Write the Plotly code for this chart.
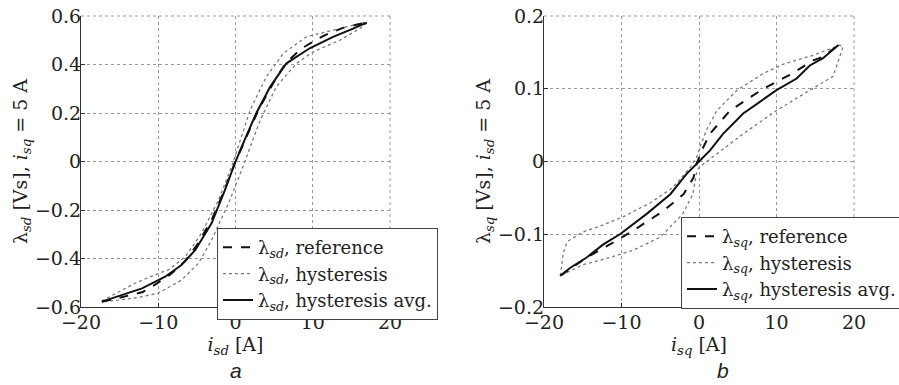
import plotly.graph_objects as go

# ---------------- data: left panel (lambda_sd vs i_sd) ----------------
a_ref_x = [-17.3, -15.0, -12.0, -10.5, -8.4, -6.5, -5.0, -3.0, -1.4, 0.0, 1.4, 3.0, 5.0, 6.5, 8.4, 10.5, 12.0, 14.0, 17.0]
a_ref_y = [-0.578, -0.562, -0.538, -0.51, -0.465, -0.41, -0.345, -0.235, -0.115, 0.0, 0.1, 0.215, 0.33, 0.405, 0.463, 0.503, 0.527, 0.552, 0.573]

a_avg_x = [-17.3, -15.2, -12.1, -9.1, -7.0, -5.2, -3.1, -1.4, 0.0, 1.2, 2.7, 4.5, 6.6, 9.6, 12.7, 15.0, 17.0]
a_avg_y = [-0.578, -0.557, -0.523, -0.475, -0.427, -0.365, -0.255, -0.12, 0.0, 0.09, 0.2, 0.309, 0.405, 0.467, 0.515, 0.545, 0.573]

a_hup_x = [-17.3, -15.0, -13.0, -10.5, -8.7, -6.5, -4.4, -2.2, -0.5, 1.9, 4.0, 6.2, 9.2, 12.7, 17.0]
a_hup_y = [-0.575, -0.535, -0.502, -0.468, -0.447, -0.393, -0.296, -0.159, -0.021, 0.212, 0.35, 0.446, 0.515, 0.542, 0.576]
a_hlo_x = [-17.3, -15.2, -12.5, -10.0, -7.0, -4.8, -3.1, -0.9, 0.8, 3.2, 5.3, 7.9, 10.1, 13.5, 16.5, 17.0]
a_hlo_y = [-0.578, -0.572, -0.56, -0.543, -0.489, -0.42, -0.324, -0.172, -0.035, 0.171, 0.309, 0.405, 0.453, 0.50, 0.556, 0.573]

# ---------------- data: right panel (lambda_sq vs i_sq) ----------------
b_ref_x = [-17.9, -14.5, -11.5, -8.5, -4.6, -2.0, -0.7, -0.3, 0.35, 1.4, 4.0, 8.3, 11.7, 14.75, 16.0, 18.0]
b_ref_y = [-0.157, -0.132, -0.114, -0.095, -0.068, -0.045, -0.022, -0.003, 0.015, 0.038, 0.07, 0.100, 0.119, 0.139, 0.144, 0.16]

b_avg_x = [-17.9, -16.6, -14.5, -12.35, -10.2, -6.75, -3.7, -1.6, -0.1, 1.4, 3.1, 5.7, 10.0, 12.6, 14.3, 16.0, 18.0]
b_avg_y = [-0.157, -0.146, -0.132, -0.114, -0.100, -0.072, -0.045, -0.017, -0.001, 0.015, 0.038, 0.066, 0.098, 0.114, 0.132, 0.142, 0.16]

b_hup_x = [-17.9, -17.5, -17.0, -15.0, -12.8, -9.8, -6.3, -3.4, -1.2, -0.3, 0.3, 1.0, 2.3, 4.9, 8.3, 10.9, 14.7, 18.2, 18.6]
b_hup_y = [-0.157, -0.125, -0.11, -0.097, -0.089, -0.076, -0.057, -0.036, -0.009, 0.006, 0.025, 0.044, 0.07, 0.098, 0.121, 0.134, 0.146, 0.16, 0.158]
b_hlo_x = [-17.9, -15.0, -11.5, -8.5, -5.0, -2.1, -0.8, -0.3, 0.0, 1.0, 2.3, 5.7, 10.0, 14.3, 17.3, 18.6]
b_hlo_y = [-0.157, -0.142, -0.132, -0.122, -0.104, -0.072, -0.045, -0.015, -0.008, 0.001, 0.011, 0.038, 0.07, 0.098, 0.117, 0.158]

x_ticks = [-20, -10, 0, 10, 20]
a_y_ticks = [-0.6, -0.4, -0.2, 0, 0.2, 0.4, 0.6]
b_y_ticks = [-0.2, -0.1, 0, 0.1, 0.2]

SERIF = "DejaVu Serif, serif"
SANS = "Liberation Sans, Arial, sans-serif"
INK = "#222222"
GRID = "#9a9a9a"

fig = go.Figure()

def add_panel(xa, ya, legend, sub, ref_x, ref_y, avg_x, avg_y, up_x, up_y, lo_x, lo_y):
    loop_x = list(up_x) + list(reversed(lo_x))
    loop_y = list(up_y) + list(reversed(lo_y))
    fig.add_trace(go.Scatter(x=loop_x, y=loop_y, mode="lines", xaxis=xa, yaxis=ya, legend=legend,
                             name="λ<sub><i>%s</i></sub>, hysteresis" % sub, legendrank=2,
                             line=dict(color="#7a7a7a", width=1.3, dash="dot")))
    fig.add_trace(go.Scatter(x=ref_x, y=ref_y, mode="lines", xaxis=xa, yaxis=ya, legend=legend,
                             name="λ<sub><i>%s</i></sub>, reference" % sub, legendrank=1,
                             line=dict(color="#111111", width=2, dash="dash")))
    fig.add_trace(go.Scatter(x=avg_x, y=avg_y, mode="lines", xaxis=xa, yaxis=ya, legend=legend,
                             name="λ<sub><i>%s</i></sub>, hysteresis avg." % sub, legendrank=3,
                             line=dict(color="#111111", width=2)))

add_panel("x", "y", "legend", "sd", a_ref_x, a_ref_y, a_avg_x, a_avg_y, a_hup_x, a_hup_y, a_hlo_x, a_hlo_y)
add_panel("x2", "y2", "legend2", "sq", b_ref_x, b_ref_y, b_avg_x, b_avg_y, b_hup_x, b_hup_y, b_hlo_x, b_hlo_y)

W, H = 899, 385
ydom = [1 - 307 / H, 1 - 16 / H]

axis_common = dict(
    showline=True, linecolor="#333333", linewidth=1.2, mirror=False,
    ticks="inside", ticklen=4, tickcolor="#333333", tickwidth=1,
    showgrid=True, gridcolor=GRID, gridwidth=1, griddash="dot",
    zeroline=False, tickfont=dict(family=SERIF, size=19, color=INK),
)
title_font = dict(family=SERIF, size=19, color=INK)

fig.update_layout(
    width=W, height=H, autosize=False,
    margin=dict(l=0, r=0, t=0, b=0, autoexpand=False),
    paper_bgcolor="white", plot_bgcolor="white",
    font=dict(family=SERIF, color=INK),
    xaxis=dict(domain=[81 / W, 390 / W], range=[-20, 20], tickvals=x_ticks, anchor="y",
               title=dict(text="<i>i</i><sub><i>sd</i></sub> [A]", font=title_font, standoff=2),
               ticklabelstandoff=-2, **axis_common),
    yaxis=dict(domain=ydom, range=[-0.6, 0.6], tickvals=a_y_ticks, anchor="x",
               title=dict(text="λ<sub><i>sd</i></sub> [Vs], <i>i</i><sub><i>sq</i></sub> = 5 A", font=title_font, standoff=2),
               ticklabelstandoff=-5, **axis_common),
    xaxis2=dict(domain=[544 / W, 854 / W], range=[-20, 20], tickvals=x_ticks, anchor="y2",
                title=dict(text="<i>i</i><sub><i>sq</i></sub> [A]", font=title_font, standoff=2),
                ticklabelstandoff=-2, **axis_common),
    yaxis2=dict(domain=ydom, range=[-0.2, 0.2], tickvals=b_y_ticks, anchor="x2",
                title=dict(text="λ<sub><i>sq</i></sub> [Vs], <i>i</i><sub><i>sd</i></sub> = 5 A", font=title_font, standoff=2),
                ticklabelstandoff=-5, **axis_common),
    legend=dict(x=217 / W, y=1 - 228 / H, xanchor="left", yanchor="top",
                bgcolor="white", bordercolor="#444444", borderwidth=1,
                font=dict(family=SERIF, size=18, color=INK), tracegroupgap=0),
    legend2=dict(x=681 / W, y=1 - 217 / H, xanchor="left", yanchor="top",
                 bgcolor="white", bordercolor="#444444", borderwidth=1,
                 font=dict(family=SERIF, size=18, color=INK), tracegroupgap=0),
    annotations=[
        dict(text="<i>a</i>", x=236 / W, y=1 - 370 / H, xref="paper", yref="paper", showarrow=False,
             xanchor="center", yanchor="middle", font=dict(family=SANS, size=21, color=INK)),
        dict(text="<i>b</i>", x=723 / W, y=1 - 370 / H, xref="paper", yref="paper", showarrow=False,
             xanchor="center", yanchor="middle", font=dict(family=SANS, size=21, color=INK)),
    ],
)

# dotted frame on the top and right edges (as in the reference box)
for xr, yr in (("x domain", "y domain"), ("x2 domain", "y2 domain")):
    fig.add_shape(type="line", xref=xr, yref=yr, x0=0, x1=1, y0=1, y1=1,
                  line=dict(color=GRID, width=1, dash="dot"), layer="below")
    fig.add_shape(type="line", xref=xr, yref=yr, x0=1, x1=1, y0=0, y1=1,
                  line=dict(color=GRID, width=1, dash="dot"), layer="below")

fig.write_html("out.html")
